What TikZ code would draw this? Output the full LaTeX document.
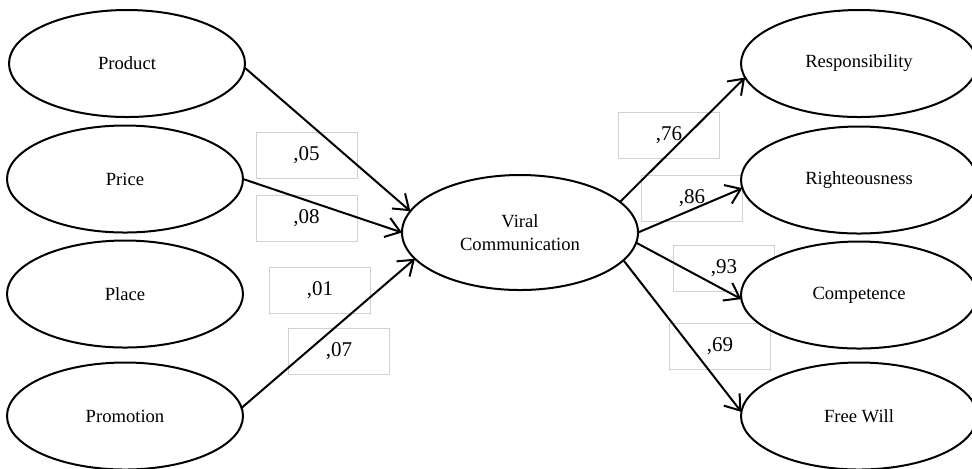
\documentclass[tikz,border=0pt]{standalone}
\usepackage{fontspec}
\setmainfont{Liberation Serif}
\usetikzlibrary{arrows.meta, shapes.geometric}

\begin{document}
\begin{tikzpicture}[x=0.5pt, y=-0.5pt,
	latent/.style={ellipse, draw, line width=1pt, fill=white, inner sep=0pt, outer sep=0pt,
		minimum width=118pt, minimum height=53.5pt, align=center,
		font=\fontsize{9.3}{11.5}\selectfont},
	coef/.style={draw=black!18, line width=0.5pt, inner sep=0pt,
		minimum width=50.5pt, minimum height=23pt, font=\fontsize{10.5}{12}\selectfont},
	path/.style={line width=1pt, -{Straight Barb[length=7pt, width=10pt, line width=1pt]}}]
	\useasboundingbox (0,0) rectangle (972,468);
	% coefficient boxes
	\node [coef] (b05) at (306.5,155) {,05};
	\node [coef] (b08) at (306.5,218.5) {,08};
	\node [coef] (b01) at (320,290) {,01};
	\node [coef] (b07) at (339,351) {,07};
	\node [coef] (b76) at (669,135) {,76};
	\node [coef] (b86) at (692,198.5) {,86};
	\node [coef] (b93) at (724,268.5) {,93};
	\node [coef] (b69) at (720,346.5) {,69};
	% marketing mix
	\node [latent] (prod) at (127,63.5) {Product};
	\node [latent] (price) at (125,179) {Price};
	\node [latent] (place) at (125,294) {Place};
	\node [latent] (promo) at (125,416) {Promotion};
	% mediator
	\node [latent, minimum height=57.5pt] (vc) at (520,232.5) {Viral\\Communication};
	% image dimensions
	\node [latent] (resp) at (859,63.5) {Responsibility};
	\node [latent] (right) at (859,180) {Righteousness};
	\node [latent] (comp) at (859,295) {Competence};
	\node [latent] (free) at (859,416) {Free Will};
	\draw [path] (prod.-2) -- (vc.169);
	\draw [path] (price.east) -- (vc.west);
	\draw [path] (promo.4) -- (vc.194);
	\draw [path] (vc.17) -- (resp.187);
	\draw [path] (vc.east) -- (right.184);
	\draw [path] (vc.-5) -- (comp.182);
	\draw [path] (vc.-15) -- (free.178);
\end{tikzpicture}
\end{document}
